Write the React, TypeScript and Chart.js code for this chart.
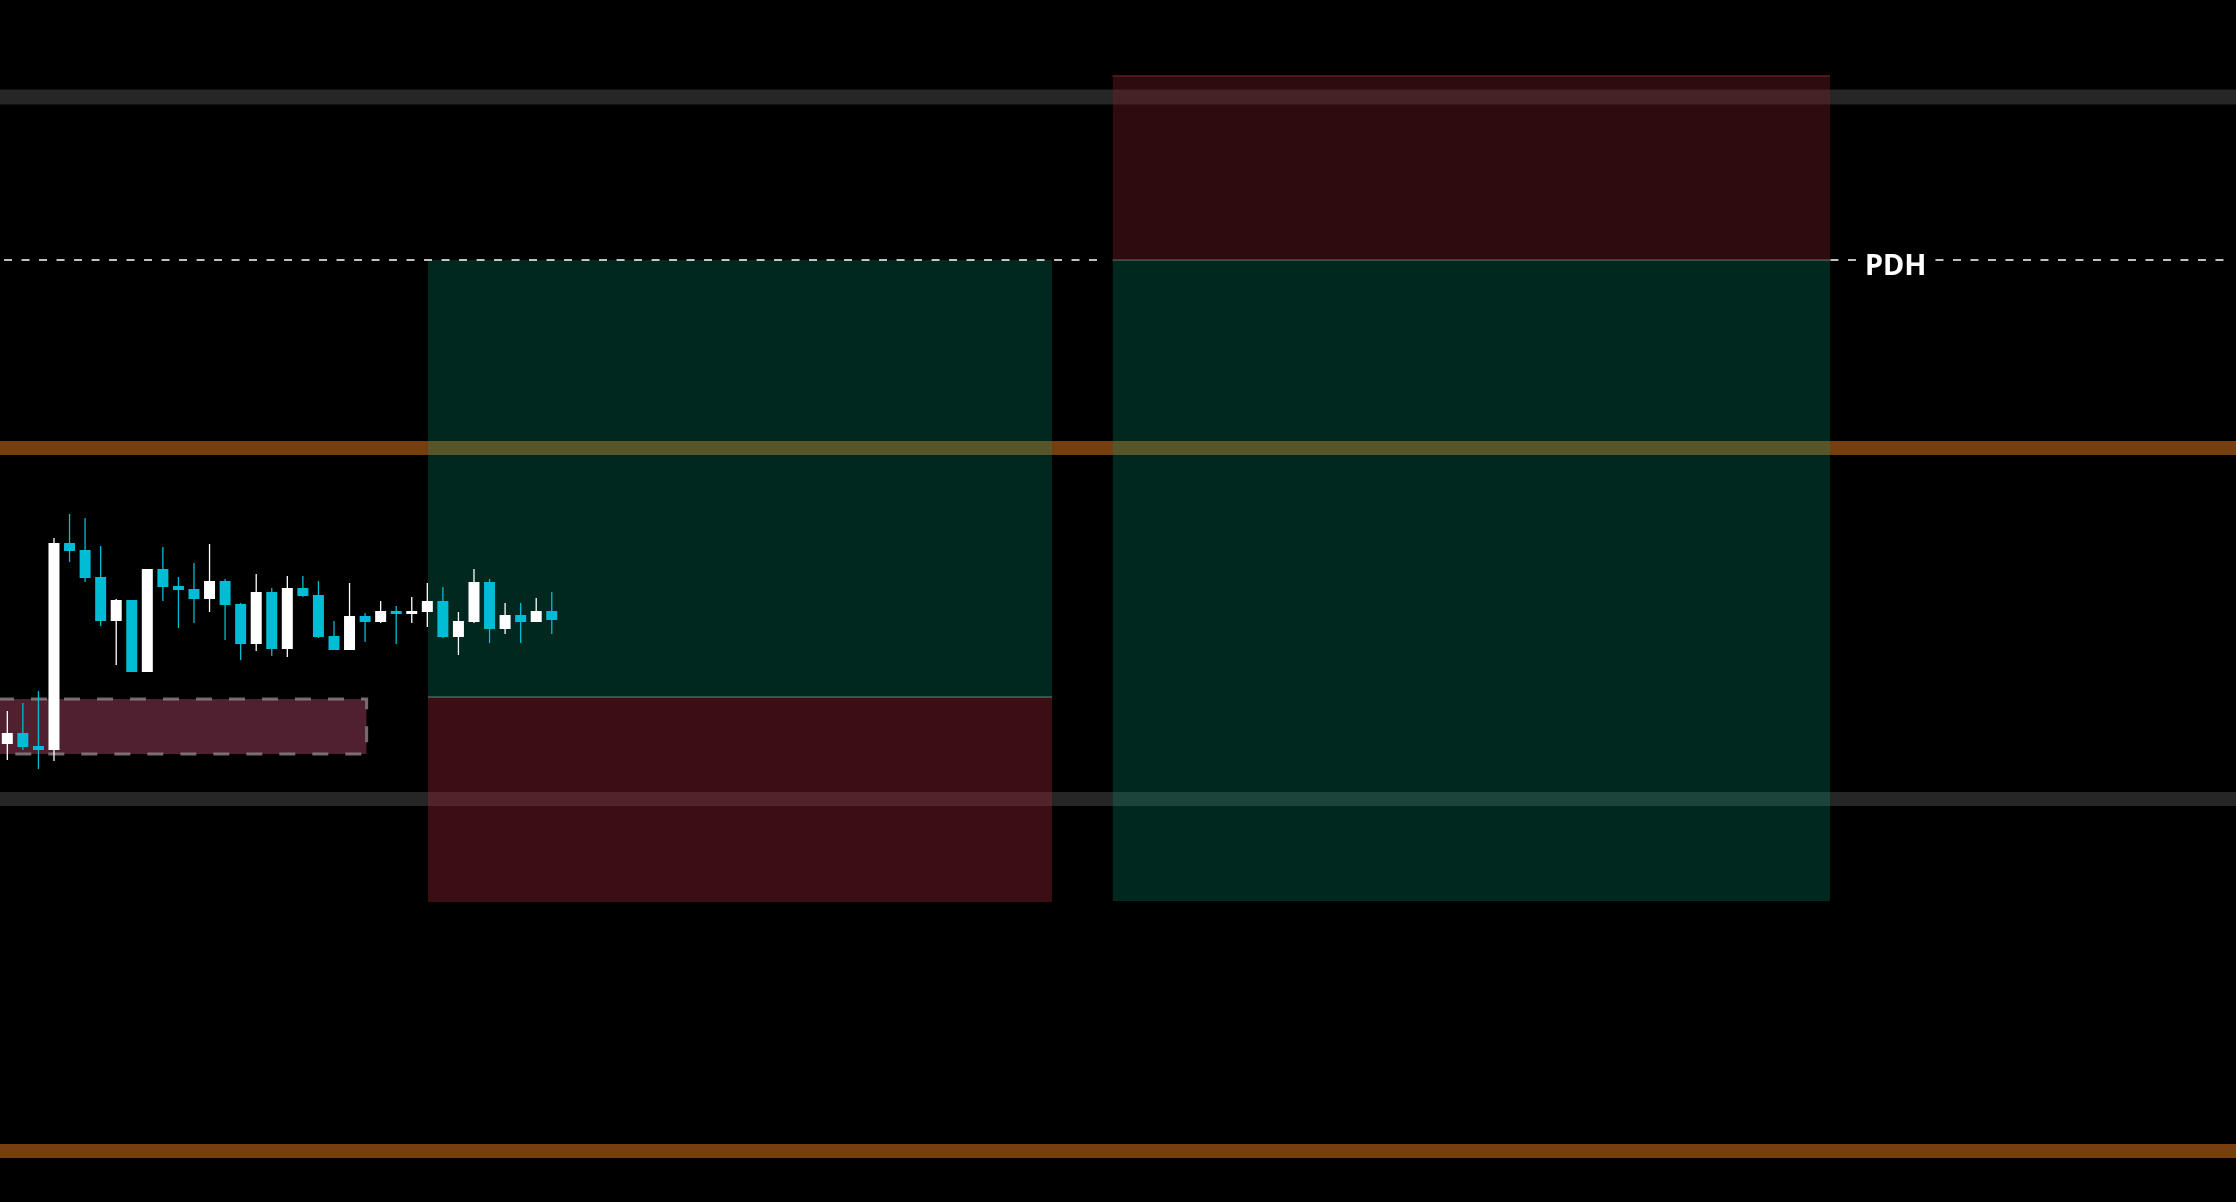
import React, { useEffect, useRef } from "react";
import { Chart, registerables } from "chart.js";

Chart.register(...registerables);

// ---- Candles (bar index, prices) ----
const candleIndex = [0, 1, 2, 3, 4, 5, 6, 7, 8, 9, 10, 11, 12, 13, 14, 15, 16, 17, 18, 19, 20, 21, 22, 23, 24, 25, 26, 27, 28, 29, 30, 31, 32, 33, 34, 35];
const opens = [4964, 4966.75, 4963.5, 4962.5, 5014.25, 5012.5, 5005.75, 4994.75, 5000, 4982, 5007.75, 5003.5, 5002.75, 5000.25, 5004.75, 4999, 4989, 5002, 4987.75, 5003, 5001.25, 4991, 4987.5, 4996, 4994.5, 4997.25, 4996.5, 4997, 4999.75, 4990.75, 4994.5, 5004.5, 4992.75, 4996.25, 4994.5, 4997.25];
const highs = [4972.25, 4974.25, 4977.25, 5015.5, 5021.5, 5020.5, 5013.5, 5000.25, 5000, 5007.75, 5013.25, 5005.75, 5009.25, 5014, 5005.25, 4999.25, 5006.5, 5003, 5006, 5006, 5004.75, 4994.75, 5004.25, 4996.75, 4999.75, 4998.5, 5000.75, 5004.25, 5003.25, 4997, 5007.75, 5005.25, 4999.25, 4999.25, 5000.5, 5002];
const lows = [4960, 4962.5, 4957.75, 4959.75, 5009.5, 5004.5, 4993.5, 4983.75, 4982, 4982, 4999.75, 4993, 4994.25, 4997, 4990, 4985, 4987.25, 4986, 4985.75, 5000.75, 4990.5, 4987.5, 4987.5, 4989.5, 4994.25, 4989, 4994.25, 4993.25, 4990.5, 4986.25, 4994.25, 4989.25, 4991.5, 4989.25, 4994.5, 4991.5];
const closes = [4966.75, 4963.25, 4962.5, 5014.25, 5012.25, 5005.5, 4994.75, 5000, 4982, 5007.75, 5003.25, 5002.5, 5000.25, 5004.75, 4998.75, 4989, 5002, 4987.75, 5003, 5001, 4990.75, 4987.5, 4996, 4994.5, 4997.25, 4996.5, 4997.25, 4999.75, 4990.75, 4994.75, 5004.5, 4992.75, 4996.25, 4994.5, 4997.25, 4995];

// ---- Horizontal level bands ----
const bandLevels = [5125.75, 5038, 4950.25, 4862.25];
const bandKinds = ["gray", "orange", "gray", "orange"];

// ---- Zones (x in bar index units, y in price) ----
const zoneKinds = ["red", "green", "green", "red"];
const zoneStart = [71.05, 71.05, 27.04, 27.04];
const zoneEnd = [117.17, 117.17, 67.16, 67.16];
const zoneTop = [5131, 5085, 5085, 4975.75];
const zoneBottom = [5085, 4924.75, 4975.75, 4924.5];

// ---- Range box at lower left ----
const rangeStart = -0.6;
const rangeEnd = 23.1;
const rangeTop = 4975.25;
const rangeBottom = 4961.5;

// ---- Previous day high ----
const pdhLevel = 5085;
const pdhSegmentStart = [-0.21, 117.2];
const pdhSegmentEnd = [70.5, 142.8];
const levelLabels = ["PDH"];
const levelLabelAt = [121.4];

// ---- Scale range ----
const xMin = -0.47;
const xMax = 143.27;
const yMin = 4849.5;
const yMax = 5150;

const UP = "#ffffff";
const DOWN = "#00bcd4";

export default function App() {
  const ref = useRef<HTMLCanvasElement | null>(null);

  useEffect(() => {
    document.body.style.margin = "0";
    document.body.style.background = "#000";
    const canvas = ref.current;
    if (!canvas) return;

    const candleColors = candleIndex.map((_, i) => (closes[i] >= opens[i] ? UP : DOWN));

    const bandDatasets = bandLevels.map((lvl, i) => ({
      type: "line" as const,
      data: [
        { x: xMin, y: lvl },
        { x: xMax, y: lvl },
      ],
      borderColor: bandKinds[i] === "gray" ? "#262626" : "#763f0f",
      borderWidth: i === 0 ? 15 : 14,
      pointRadius: 0,
      fill: false,
      order: 10,
    }));

    const zoneDatasets = zoneKinds.map((kind, i) => {
      const isRed = kind === "red";
      let bg = "rgba(0,154,119,0.26)";
      if (isRed) bg = i === 0 ? "rgba(120,30,40,0.38)" : "rgba(148,35,50,0.4)";
      let border = "rgba(0,0,0,0)";
      let bw = 0;
      if (i === 0) {
        border = "rgba(110,30,40,0.9)";
        bw = 1.5;
      } else if (i === 1 || i === 3) {
        border = "#7d7d7d";
        bw = 1.2;
      }
      return {
        type: "line" as const,
        data: [
          { x: zoneStart[i], y: zoneTop[i] },
          { x: zoneEnd[i], y: zoneTop[i] },
        ],
        borderColor: border,
        borderWidth: bw,
        backgroundColor: bg,
        pointRadius: 0,
        fill: { value: zoneBottom[i] },
        order: 5,
      };
    });

    const rangeFill = {
      type: "line" as const,
      data: [
        { x: rangeStart, y: rangeTop },
        { x: rangeEnd, y: rangeTop },
      ],
      borderWidth: 0,
      borderColor: "rgba(0,0,0,0)",
      backgroundColor: "#4f202f",
      pointRadius: 0,
      fill: { value: rangeBottom },
      order: 5,
    };

    const rangeBorder = {
      type: "line" as const,
      data: [
        { x: rangeStart, y: rangeTop },
        { x: rangeEnd, y: rangeTop },
        { x: rangeEnd, y: rangeBottom },
        { x: rangeStart, y: rangeBottom },
        { x: rangeStart, y: rangeTop },
      ],
      borderColor: "rgba(150,140,145,0.75)",
      borderWidth: 3,
      borderDash: [16, 17],
      pointRadius: 0,
      fill: false,
      order: 4,
    };

    const pdhDatasets = pdhSegmentStart.map((s, i) => ({
      type: "line" as const,
      data: [
        { x: s, y: pdhLevel },
        { x: pdhSegmentEnd[i], y: pdhLevel },
      ],
      borderColor: "#ffffff",
      borderWidth: 1.5,
      borderDash: [8, 9.5],
      pointRadius: 0,
      fill: false,
      order: 3,
    }));

    const wicks = {
      type: "bar" as const,
      data: candleIndex.map((x, i) => ({ x, y: [lows[i], highs[i]] })),
      backgroundColor: candleColors,
      borderWidth: 0,
      grouped: false,
      maxBarThickness: 1.3,
      order: 2,
    };

    const bodies = {
      type: "bar" as const,
      data: candleIndex.map((x, i) => ({ x, y: [opens[i], closes[i]] })),
      backgroundColor: candleColors,
      borderWidth: 0,
      grouped: false,
      maxBarThickness: 11,
      minBarLength: 1,
      order: 1,
    };

    const labelPlugin = {
      id: "levelLabels",
      afterDatasetsDraw(chart: any) {
        const { ctx, scales } = chart;
        ctx.save();
        levelLabels.forEach((txt, i) => {
          const px = scales.x.getPixelForValue(levelLabelAt[i]);
          const py = scales.y.getPixelForValue(pdhLevel);
          ctx.fillStyle = "#000000";
          ctx.fillRect(px - 39, py - 14, 78, 28);
          ctx.fillStyle = "#ffffff";
          ctx.font = 'bold 29px "Noto Sans"';
          ctx.textAlign = "center";
          ctx.textBaseline = "alphabetic";
          ctx.fillText(txt, px, py + 15);
        });
        ctx.restore();
      },
    };

    const chart = new Chart(canvas, {
      type: "bar",
      data: {
        datasets: [
          ...bandDatasets,
          ...zoneDatasets,
          rangeFill,
          rangeBorder,
          ...pdhDatasets,
          wicks,
          bodies,
        ] as any,
      },
      options: {
        animation: false,
        responsive: false,
        maintainAspectRatio: false,
        events: [],
        layout: { padding: 0 },
        plugins: {
          legend: { display: false },
          tooltip: { enabled: false },
        },
        scales: {
          x: {
            type: "linear",
            min: xMin,
            max: xMax,
            offset: false,
            display: false,
          },
          y: {
            type: "linear",
            min: yMin,
            max: yMax,
            display: false,
          },
        },
      },
      plugins: [labelPlugin],
    });

    return () => chart.destroy();
  }, []);

  return (
    <div style={{ position: "fixed", left: 0, top: 0, width: 2236, height: 1202, background: "#000" }}>
      <canvas ref={ref} width={2236} height={1202} style={{ display: "block", width: 2236, height: 1202 }} />
    </div>
  );
}
